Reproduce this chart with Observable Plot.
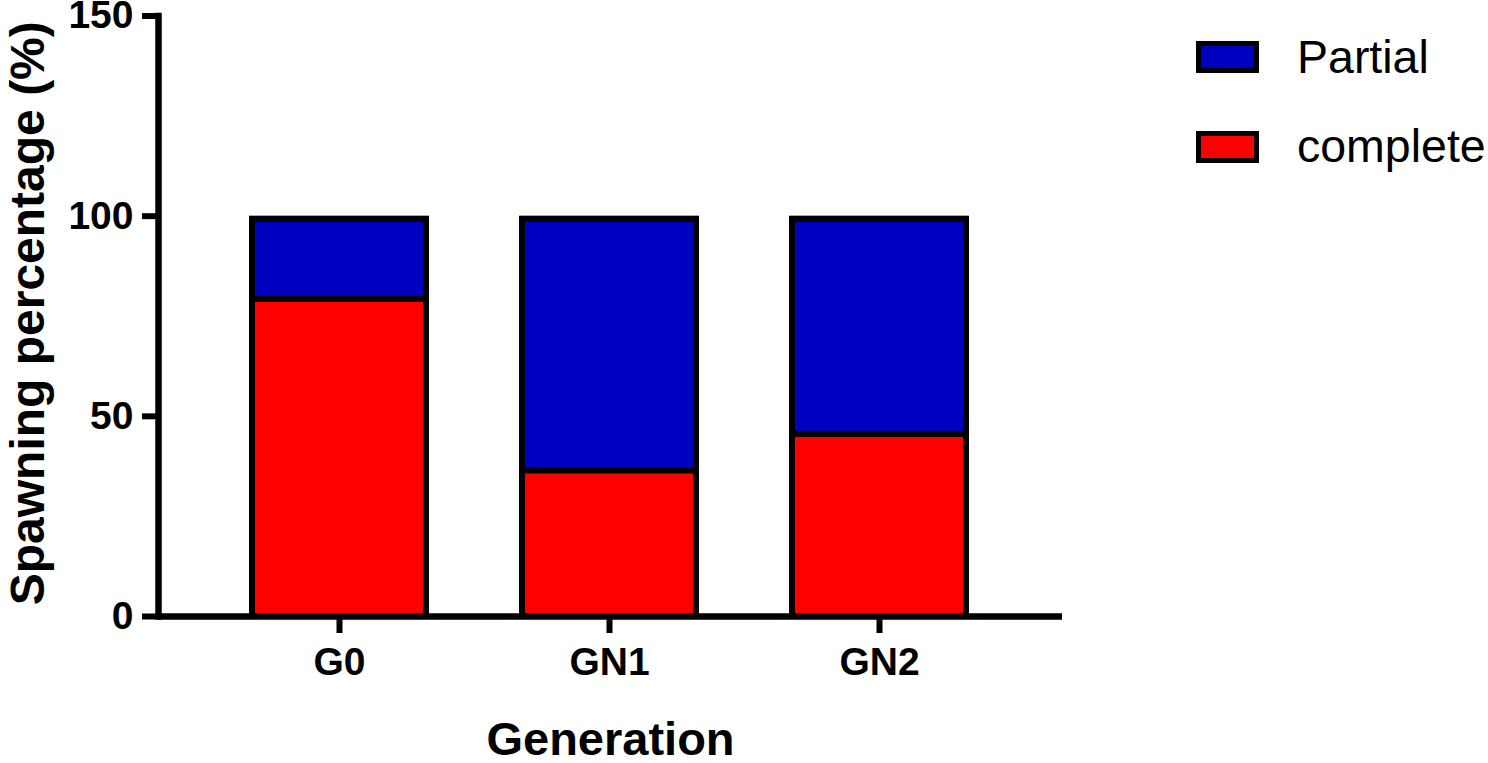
<!DOCTYPE html>
<html>
<head>
<meta charset="utf-8">
<script src="https://cdn.jsdelivr.net/npm/d3@7"></script>
<script src="https://cdn.jsdelivr.net/npm/@observablehq/plot@0.6"></script>
<style>
  body { margin: 0; background: #fff; }
  #wrap { position: relative; width: 1488px; height: 763px; font-family: "Liberation Sans", Arial, sans-serif; }
  .sw { position: absolute; left: 1196px; width: 53px; height: 22px; border: 5px solid #000; }
  .lt { position: absolute; left: 1297px; font-size: 46.5px; line-height: 48px; color: #000; white-space: nowrap; }
</style>
</head>
<body>
<div id="wrap"></div>
<script>
const generations = ["G0", "GN1", "GN2"];
const completeValues = [79.2, 36.4, 45.5];
const partialValues = [20.8, 63.6, 54.5];
const yTicks = [0, 50, 100, 150];
const seriesNames = ["Partial", "complete"];
const seriesColors = ["#0000C0", "#FF0000"];
const xTitle = "Generation";
const yTitle = "Spawning percentage (%)";

const rows = generations.map((g, i) => ({
  g,
  complete: completeValues[i],
  top: completeValues[i] + partialValues[i]
}));

const chart = Plot.plot({
  width: 1488,
  height: 763,
  marginLeft: 158,
  marginRight: 426,
  marginTop: 15.5,
  marginBottom: 147,
  style: { fontFamily: '"Liberation Sans", Arial, sans-serif', fontWeight: "bold", color: "#000", background: "#fff", overflow: "visible" },
  x: { domain: generations, range: [204, 1014], paddingInner: 1 / 3, paddingOuter: 1 / 6 },
  y: { domain: [0, 150] },
  marks: [
    Plot.barY(rows, { x: "g", y1: 0, y2: "complete", fill: seriesColors[1], stroke: "#000", strokeWidth: 6, insetLeft: 3, insetRight: 3 }),
    Plot.barY(rows, { x: "g", y1: "complete", y2: "top", fill: seriesColors[0], stroke: "#000", strokeWidth: 6, insetLeft: 3, insetRight: 3, insetTop: 3 }),
    Plot.ruleY([0], { stroke: "#000", strokeWidth: 6.5 }),
    Plot.frame({ anchor: "left", stroke: "#000", strokeWidth: 6.5, strokeLinecap: "square" }),
    Plot.axisY({ ticks: yTicks, tickSize: 16, tickPadding: 9, strokeWidth: 6, fontSize: 39, fontWeight: "bold", label: null }),
    Plot.axisX({ tickSize: 17, tickPadding: 14, strokeWidth: 6, fontSize: 39, fontWeight: "bold", label: null }),
    Plot.text([xTitle], { frameAnchor: "bottom", dy: 138, lineAnchor: "bottom", fontSize: 47, fontWeight: "bold", fill: "#000" }),
    Plot.text([yTitle], { frameAnchor: "left", dx: -115, dy: -3, rotate: -90, textAnchor: "middle", lineAnchor: "bottom", fontSize: 48, fontWeight: "bold", fill: "#000", letterSpacing: "0.4px" })
  ]
});

const wrap = document.getElementById("wrap");
wrap.appendChild(chart);
chart.style.position = "absolute";
chart.style.left = "0px";
chart.style.top = "0px";

// legend (HTML, placed at right)
const legendTops = [41, 131];
const textTops = [32.5, 121.5];
seriesNames.forEach((name, i) => {
  const sw = document.createElement("div");
  sw.className = "sw";
  sw.style.top = legendTops[i] + "px";
  sw.style.background = seriesColors[i];
  wrap.appendChild(sw);
  const t = document.createElement("div");
  t.className = "lt";
  t.style.top = textTops[i] + "px";
  t.textContent = name;
  wrap.appendChild(t);
});
</script>
</body>
</html>
